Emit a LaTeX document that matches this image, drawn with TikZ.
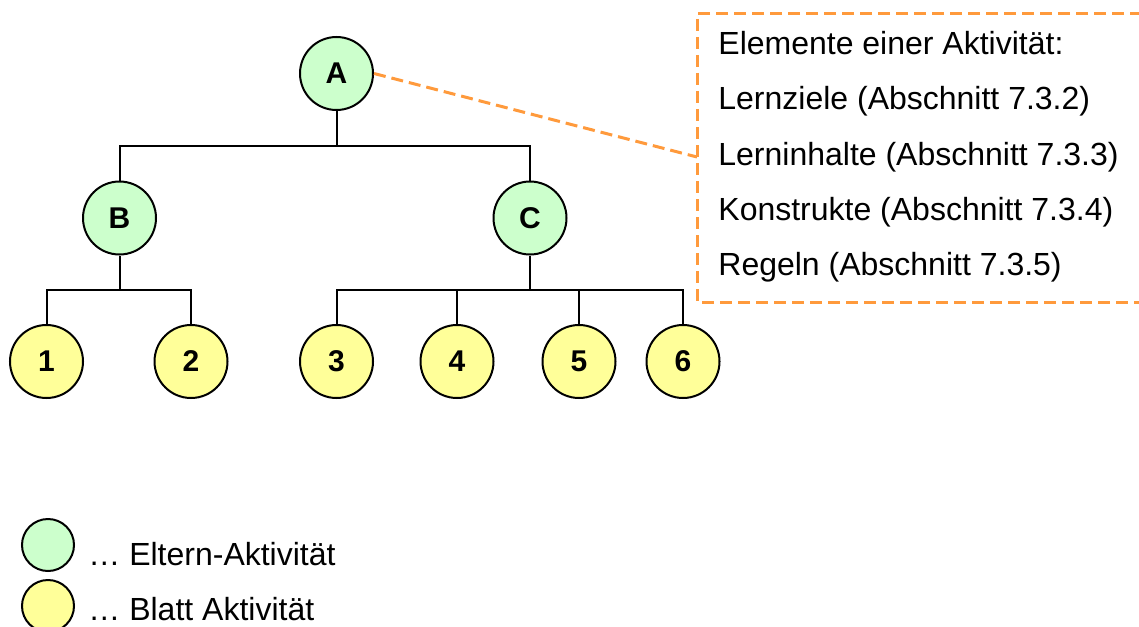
\documentclass[tikz,border=0pt]{standalone}
\usepackage{fontspec}
\setmainfont{Liberation Sans}
\begin{document}
\begin{tikzpicture}[x=0.5pt,y=-0.5pt,
  tree/.style={draw=black,line width=1pt},
  act/.style={circle,draw=black,line width=1pt,minimum size=36.5pt,inner sep=0pt,
    font=\fontsize{15}{18}\selectfont\bfseries},
  parent/.style={act,fill=parentfill},
  leaf/.style={act,fill=leaffill},
  legendmark/.style={circle,draw=black,line width=1pt,minimum size=26pt,inner sep=0pt},
  label/.style={anchor=base west,inner sep=0pt,font=\fontsize{16}{19}\selectfont},
  callout/.style={draw=calloutorange,line width=1.5pt,dash pattern=on 6pt off 3pt}
]
\definecolor{parentfill}{HTML}{CCFFCC}
\definecolor{leaffill}{HTML}{FFFF99}
\definecolor{calloutorange}{HTML}{FF9A3C}
\useasboundingbox (0,0) rectangle (1139,626);
\clip (0,0) rectangle (1139,626);

% activity tree
\node[parent] (A) at (336.5,73.5) {A};
\node[parent] (B) at (119.5,218) {B};
\node[parent] (C) at (530,218) {C};
\node[leaf] (n1) at (46.5,361.5) {1};
\node[leaf] (n2) at (191,361.5) {2};
\node[leaf] (n3) at (336.5,361.5) {3};
\node[leaf] (n4) at (457,361.5) {4};
\node[leaf] (n5) at (579,361.5) {5};
\node[leaf] (n6) at (683,361.5) {6};

\coordinate (jA) at (336.5,146);
\coordinate (jB) at (119.5,290);
\coordinate (jC) at (530,290);

\draw[tree] (A.south) -- (jA);
\draw[tree] (B.north) |- (jA) -| (C.north);
\draw[tree] (B.south) -- (jB);
\draw[tree] (n1.north) |- (jB) -| (n2.north);
\draw[tree] (C.south) -- (jC);
\draw[tree] (n3.north) |- (jC) -| (n6.north);
\draw[tree] (n4.north) -- (n4.north |- jC);
\draw[tree] (n5.north) -- (n5.north |- jC);

% callout with the elements of an activity
\coordinate (boxNE) at (1160,14);
\coordinate (boxNW) at (697,14);
\coordinate (boxSW) at (697,302);
\coordinate (boxSE) at (1160,302);
\coordinate (boxpin) at (697,157);
\draw[callout] (boxNE) -- (boxNW) -- (boxSW) -- (boxSE);
\draw[callout] (A.east) -- (boxpin);

\node[label] (e0) at (718,55) {Elemente einer Aktivität:};
\node[label] (e1) at (718,110) {Lernziele (Abschnitt 7.3.2)};
\node[label] (e2) at (718,165) {Lerninhalte (Abschnitt 7.3.3)};
\node[label] (e3) at (718,220) {Konstrukte (Abschnitt 7.3.4)};
\node[label] (e4) at (718,275) {Regeln (Abschnitt 7.3.5)};

% legend
\node[legendmark,fill=parentfill] (lg1) at (48,545) {};
\node[legendmark,fill=leaffill] (lg2) at (48,606) {};
\node[label] (lt1) at (88,565) {… Eltern-Aktivität};
\node[label] (lt2) at (88,620) {… Blatt Aktivität};
\end{tikzpicture}
\end{document}
